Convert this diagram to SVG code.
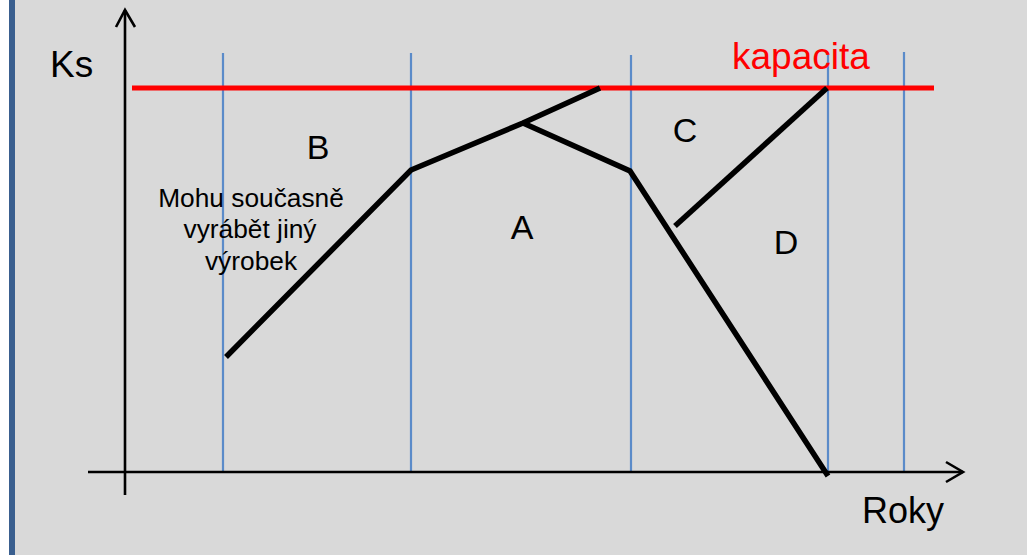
<svg xmlns="http://www.w3.org/2000/svg" width="1027" height="555" viewBox="0 0 1027 555">
<style>
.grid{stroke:#5b8bc9;stroke-width:2.2;fill:none}
.curve{stroke:#000;stroke-width:5.5;fill:none;stroke-linejoin:miter}
.axis{stroke:#000;stroke-width:2.6;fill:none}
.t{font-family:"Liberation Sans",Arial,sans-serif;fill:#000}
</style>
<rect x="0" y="0" width="1027" height="555" fill="#ffffff"/>
<rect x="9" y="0" width="1018" height="555" fill="#d9d9d9"/>
<rect x="9" y="0" width="6" height="555" fill="#3a5f8f"/>
<g id="grid">
<line class="grid" x1="223" y1="53" x2="223" y2="472"/>
<line class="grid" x1="411" y1="53" x2="411" y2="472"/>
<line class="grid" x1="631" y1="55" x2="631" y2="472"/>
<line class="grid" x1="828" y1="55" x2="828" y2="472"/>
<line class="grid" x1="904" y1="52" x2="904" y2="472"/>
</g>
<g id="capacity">
<line x1="132" y1="88" x2="934" y2="88" stroke="#ff0000" stroke-width="5"/>
<text class="t" x="732" y="69" font-size="37" style="fill:#ff0000">kapacita</text>
</g>
<g id="axes">
<line class="axis" x1="125" y1="495" x2="125" y2="10"/>
<polyline class="axis" points="116,27 125,10 135,27"/>
<line class="axis" x1="88" y1="472" x2="963" y2="472"/>
<polyline class="axis" points="946,462 963,472 946,482"/>
<text class="t" x="50" y="77" font-size="37">Ks</text>
<text class="t" x="862" y="523" font-size="36">Roky</text>
</g>
<g id="connectors">
<polyline class="curve" points="226,357 411,170 523,123 600,88"/>
<polyline class="curve" points="523,123 630,171 828,476"/>
<line class="curve" x1="675" y1="226" x2="827" y2="88"/>
</g>
<g id="labels">
<text class="t" x="318" y="159" font-size="34" text-anchor="middle">B</text>
<text class="t" x="522" y="239" font-size="34" text-anchor="middle">A</text>
<text class="t" x="685" y="142" font-size="34" text-anchor="middle">C</text>
<text class="t" x="786" y="254" font-size="34" text-anchor="middle">D</text>
<text class="t" font-size="26.3" text-anchor="middle"><tspan x="251" y="207">Mohu současně</tspan><tspan x="250" y="238">vyrábět jiný</tspan><tspan x="251" y="270">výrobek</tspan></text>
</g>
</svg>
